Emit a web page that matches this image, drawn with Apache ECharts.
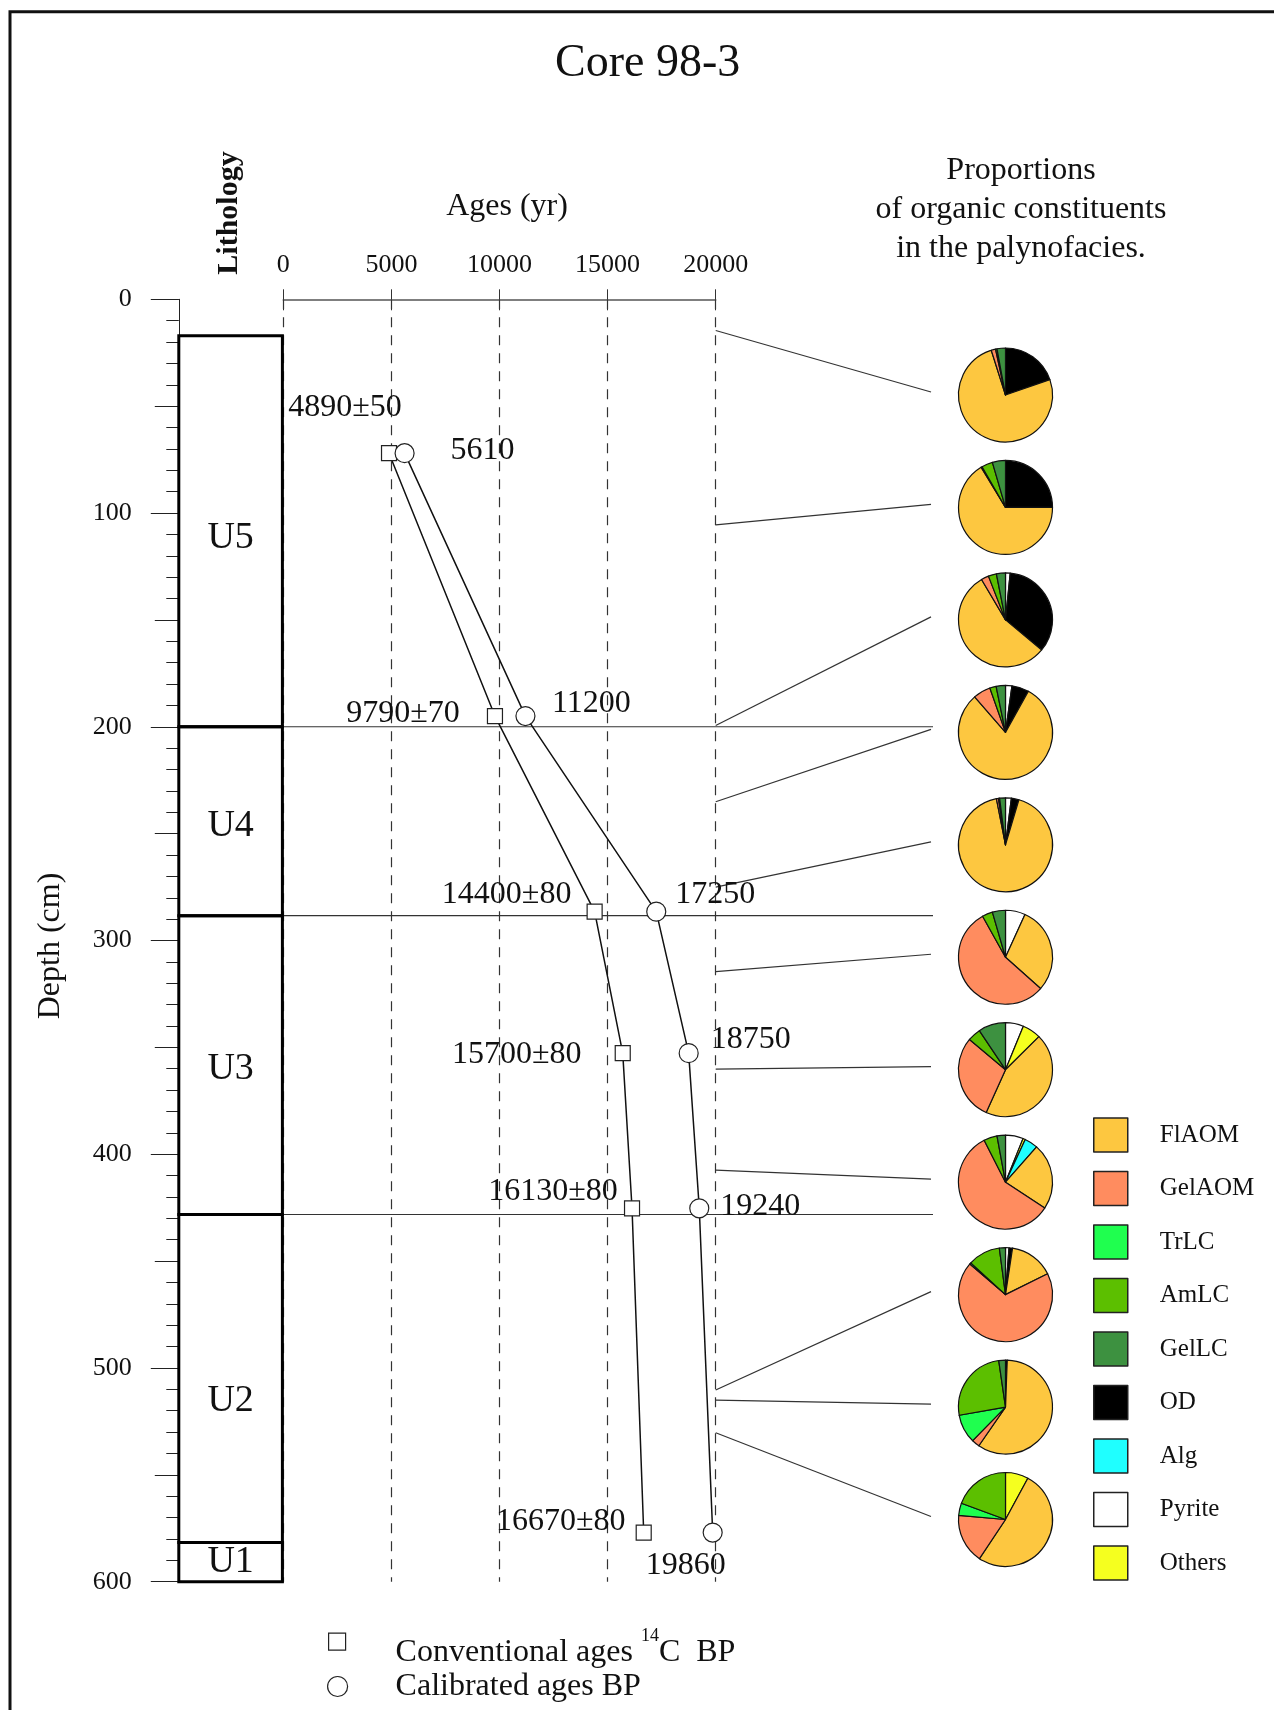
<!DOCTYPE html>
<html>
<head>
<meta charset="utf-8">
<title>Core 98-3</title>
<script src="https://cdn.jsdelivr.net/npm/echarts@6/dist/echarts.min.js"></script>
<style>
    html, body { margin: 0; padding: 0; background: #fff; }
    #chart { width: 1274px; height: 1710px; }
</style>
</head>
<body>
<div id="chart"></div>
<script>
// axes
var depthTicks = [0, 100, 200, 300, 400, 500, 600];
var ageTicks = [0, 5000, 10000, 15000, 20000];

// lithological units (depth in cm)
var unitNames = ['U5', 'U4', 'U3', 'U2', 'U1'];
var unitTop = [17, 200, 288.4, 428.2, 581.7];
var unitBase = [200, 288.4, 428.2, 581.7, 600];
var unitLabelDepth = [111.7, 246.3, 360.1, 515.3, 590.8];
// boundaries that are carried across the age panel
var markedBoundaries = [200, 288.4, 428.2];

// dated levels
var dateDepth = [72, 195, 286.5, 352.7, 425.3, 577];
var convAge = [4890, 9790, 14400, 15700, 16130, 16670];
var convErr = [50, 70, 80, 80, 80, 80];
var calAge = [5610, 11200, 17250, 18750, 19240, 19860];

// palynofacies samples, top to bottom (depth in cm, composition in %)
var sampleDepth = [14.6, 105.5, 199.4, 235.1, 275, 314.6, 360.2, 407.4, 510.3, 515, 530.3];
var FlAOM  = [75.4, 66.3, 55.4, 80.5, 92.2, 29.8, 44.2, 22.8, 15.3, 59.0, 51.5];
var GelAOM = [1.5, 0.4, 2.6, 6.0, 0.7, 55.3, 29.4, 58.2, 68.6, 2.7, 17.1];
var TrLC   = [0, 0, 0, 0, 0, 0, 0, 0, 0.5, 9.9, 4.2];
var AmLC   = [0.5, 3.8, 2.8, 2.2, 0.4, 3.6, 4.5, 4.6, 11.1, 25.5, 19.4];
var GelLC  = [2.9, 4.5, 3.1, 3.2, 2.0, 4.5, 9.4, 2.9, 2.1, 2.3, 0];
var OD     = [19.7, 25.0, 34.4, 5.9, 2.6, 0, 0, 0, 1.2, 0.6, 0];
var Alg    = [0, 0, 0, 0, 0, 0, 0, 4.6, 0, 0, 0];
var Pyrite = [0, 0, 1.6, 2.2, 2.0, 6.8, 6.2, 6.1, 1.2, 0, 0];
var Others = [0, 0, 0, 0, 0, 0, 6.4, 0.8, 0, 0, 7.9];

var legendOrder = ['FlAOM', 'GelAOM', 'TrLC', 'AmLC', 'GelLC', 'OD', 'Alg', 'Pyrite', 'Others'];
var pieOrder = ['Pyrite', 'Others', 'Alg', 'OD', 'FlAOM', 'GelAOM', 'TrLC', 'AmLC', 'GelLC'];
var composition = {
    FlAOM: FlAOM, GelAOM: GelAOM, TrLC: TrLC, AmLC: AmLC, GelLC: GelLC,
    OD: OD, Alg: Alg, Pyrite: Pyrite, Others: Others
};
var colors = {
    FlAOM: '#fdc740', GelAOM: '#ff8c5f', TrLC: '#1fff4f', AmLC: '#5cbf00', GelLC: '#3d9140',
    OD: '#000000', Alg: '#1fffff', Pyrite: '#ffffff', Others: '#f5ff1f'
};

// label placement (px from the marker centre)
var convLabelOffset = [[-44, -46], [-92, -2], [-88, -17], [-106, 1], [-79, -17], [-83, -11]];
var calLabelOffset = [[78, -3], [66, -12], [59, -17], [62, -14], [61, -2], [-27, 33]];

// layout
var FONT = '"Liberation Serif", "Times New Roman", serif';
var GRID_TOP = 299.3, GRID_H = 1282.4;
var LITH_LEFT = 178.8, LITH_W = 103.6;
var AGE_LEFT = 283.3, AGE_W = 432.4;
var PIE_X = 1005.5, PIE_Y0 = 395, PIE_STEP = 112.45, PIE_R = 47;
var LINK_END_X = 931, BOUNDARY_END_X = 933;

var convName = 'Conventional ages 14C BP';
var calName = 'Calibrated ages BP';

var depthMin = depthTicks[0], depthMax = depthTicks[depthTicks.length - 1];
var ageMax = ageTicks[ageTicks.length - 1];

var chart = echarts.init(document.getElementById('chart'));

function depthAxis(gridIndex, extra) {
    var axis = {
        type: 'value', gridIndex: gridIndex, inverse: true, position: 'left',
        min: depthMin, max: depthMax, interval: depthTicks[1] - depthTicks[0],
        splitLine: { show: false }
    };
    return Object.assign(axis, extra);
}

function plainNumber(v) {
    return String(v);
}

var pies = [];
sampleDepth.forEach(function (d, i) {
    var data = [];
    pieOrder.forEach(function (name) {
        var v = composition[name][i];
        if (v > 0) {
            data.push({ name: name, value: v, itemStyle: { color: colors[name] } });
        }
    });
    pies.push({
        type: 'pie',
        center: [PIE_X, PIE_Y0 + i * PIE_STEP],
        radius: PIE_R,
        startAngle: 90,
        clockwise: true,
        silent: true,
        label: { show: false },
        labelLine: { show: false },
        itemStyle: { borderColor: '#111', borderWidth: 1.2 },
        emphasis: { disabled: true },
        data: data
    });
});

var centered = { align: 'center', verticalAlign: 'middle', textAlign: 'center', textVerticalAlign: 'middle' };

var option = {
    animation: false,
    backgroundColor: '#fff',
    title: {
        text: 'Core 98-3',
        left: 555, top: 41, padding: 0,
        textStyle: { fontFamily: FONT, fontSize: 46, fontWeight: 'normal', color: '#111' }
    },
    grid: [
        { left: LITH_LEFT, top: GRID_TOP, width: LITH_W, height: GRID_H, containLabel: false, outerBoundsMode: 'none' },
        { left: AGE_LEFT, top: GRID_TOP, width: AGE_W, height: GRID_H, containLabel: false, outerBoundsMode: 'none' }
    ],
    xAxis: [
        { type: 'value', gridIndex: 0, min: 0, max: 1, show: false },
        {
            type: 'value', gridIndex: 1, position: 'top',
            min: ageTicks[0], max: ageMax, interval: ageTicks[1] - ageTicks[0],
            axisLine: { show: true, lineStyle: { color: '#555', width: 1.5 } },
            axisTick: { show: true, inside: false, length: 10, lineStyle: { color: '#333', width: 1 } },
            axisLabel: {
                show: true, margin: 21, showMinLabel: true, showMaxLabel: true,
                formatter: plainNumber,
                fontFamily: FONT, fontSize: 26, color: '#111'
            },
            splitLine: { show: true, lineStyle: { color: '#333', width: 1.2, type: [10, 8] } }
        },
        {
            type: 'value', gridIndex: 1, position: 'top',
            min: ageTicks[0], max: ageMax, interval: ageTicks[1] - ageTicks[0],
            axisLine: { show: false },
            axisTick: { show: true, inside: true, length: 11, lineStyle: { color: '#333', width: 1 } },
            axisLabel: { show: false },
            splitLine: { show: false }
        }
    ],
    yAxis: [
        depthAxis(0, {
            axisLine: { show: true, lineStyle: { color: '#222', width: 1 } },
            axisTick: { show: true, length: 28, lineStyle: { color: '#222', width: 1 } },
            minorTick: { show: true, splitNumber: 10, length: 12.5, lineStyle: { color: '#222', width: 1 } },
            axisLabel: {
                show: true, margin: 47, showMinLabel: true, showMaxLabel: true,
                formatter: plainNumber,
                fontFamily: FONT, fontSize: 26, color: '#111'
            }
        }),
        depthAxis(0, {
            interval: 50,
            axisLine: { show: false },
            axisTick: { show: true, length: 24, lineStyle: { color: '#222', width: 1 } },
            axisLabel: { show: false }
        }),
        depthAxis(1, { show: false })
    ],
    legend: [
        {
            data: legendOrder.map(function (n) { return { name: n, icon: 'rect' }; }),
            orient: 'vertical', left: 1093, top: 1117.3, padding: 0,
            itemWidth: 34, itemHeight: 34, itemGap: 18,
            selectedMode: false,
            itemStyle: { borderColor: '#222', borderWidth: 1.5 },
            textStyle: { fontFamily: FONT, fontSize: 25, lineHeight: 26, color: '#111', padding: [6, 0, 0, 27] }
        },
        {
            data: [{ name: convName, icon: 'rect', itemStyle: { color: '#fff', borderColor: '#222', borderWidth: 1.2 } }],
            orient: 'vertical', left: 328, top: 1605.7, padding: 0,
            itemWidth: 17, itemHeight: 17,
            selectedMode: false,
            formatter: function () {
                return '{a|Conventional ages }{s|14}{a|C  BP}';
            },
            textStyle: {
                fontFamily: FONT, fontSize: 32, color: '#111', lineHeight: 50, padding: [22, 0, 0, 45],
                rich: {
                    a: { fontFamily: FONT, fontSize: 32, color: '#111', lineHeight: 50 },
                    s: { fontFamily: FONT, fontSize: 18, color: '#111', lineHeight: 18, verticalAlign: 'top' }
                }
            }
        },
        {
            data: [{ name: calName, icon: 'circle', itemStyle: { color: '#fff', borderColor: '#222', borderWidth: 1.2 } }],
            orient: 'vertical', left: 327, top: 1669.5, padding: 0,
            itemWidth: 20, itemHeight: 20,
            selectedMode: false,
            textStyle: { fontFamily: FONT, fontSize: 32, color: '#111', lineHeight: 34, padding: [0, 0, 0, 43] }
        }
    ],
    graphic: [
        { type: 'rect', shape: { x: 10, y: 11.7, width: 1400, height: 1800 }, style: { fill: 'none', stroke: '#111', lineWidth: 3 }, silent: true },
        { type: 'text', x: 507, y: 207, style: Object.assign({ text: 'Ages (yr)', font: '32px ' + FONT, fill: '#111' }, centered) },
        { type: 'text', x: 1021, y: 210, style: Object.assign({ text: 'Proportions\nof organic constituents\nin the palynofacies.', font: '32px ' + FONT, lineHeight: 39, fill: '#111' }, centered) },
        { type: 'text', x: 229, y: 213, rotation: Math.PI / 2, style: Object.assign({ text: 'Lithology', font: 'bold 30px ' + FONT, fill: '#111' }, centered) },
        { type: 'text', x: 51, y: 946, rotation: Math.PI / 2, style: Object.assign({ text: 'Depth (cm)', font: '32px ' + FONT, fill: '#111' }, centered) }
    ],
    series: [
        {
            // lithology column
            type: 'custom', xAxisIndex: 0, yAxisIndex: 0, clip: false, z: 4, silent: true,
            data: unitNames.map(function (n, i) { return [0, unitTop[i], unitBase[i], unitLabelDepth[i]]; }),
            renderItem: function (params, api) {
                var p0 = api.coord([0, api.value(1)]);
                var p1 = api.coord([1, api.value(2)]);
                var pl = api.coord([0.5, api.value(3)]);
                return {
                    type: 'group',
                    children: [
                        {
                            type: 'rect',
                            shape: { x: p0[0], y: p0[1], width: p1[0] - p0[0], height: p1[1] - p0[1] },
                            style: { fill: 'none', stroke: '#000', lineWidth: 3 }
                        },
                        {
                            type: 'text', x: pl[0], y: pl[1],
                            style: Object.assign({ text: unitNames[params.dataIndex], font: '38px ' + FONT, fill: '#111' }, centered)
                        }
                    ]
                };
            }
        },
        {
            // unit boundaries carried across the age panel
            type: 'custom', xAxisIndex: 1, yAxisIndex: 2, clip: false, z: 1, silent: true,
            data: markedBoundaries.map(function (d) { return [0, d]; }),
            renderItem: function (params, api) {
                var p = api.coord([0, api.value(1)]);
                return {
                    type: 'line',
                    shape: { x1: p[0] - 1, y1: p[1], x2: BOUNDARY_END_X, y2: p[1] },
                    style: { stroke: '#333', lineWidth: 1.2 }
                };
            }
        },
        {
            // sample levels linked to their pies
            type: 'custom', xAxisIndex: 1, yAxisIndex: 2, clip: false, z: 1, silent: true,
            data: sampleDepth.map(function (d, i) { return [ageMax, d, i]; }),
            renderItem: function (params, api) {
                var p = api.coord([api.value(0), api.value(1)]);
                var i = api.value(2);
                return {
                    type: 'line',
                    shape: { x1: p[0], y1: p[1], x2: LINK_END_X, y2: PIE_Y0 + i * PIE_STEP - 3 },
                    style: { stroke: '#333', lineWidth: 1.2 }
                };
            }
        },
        {
            name: convName, type: 'line', xAxisIndex: 1, yAxisIndex: 2, z: 5,
            symbol: 'rect', symbolSize: 15, showAllSymbol: true,
            lineStyle: { color: '#111', width: 1.5 },
            itemStyle: { color: '#fff', borderColor: '#222', borderWidth: 1.2 },
            label: {
                show: true, position: 'inside', color: '#111', fontFamily: FONT, fontSize: 32,
                formatter: function (p) { return convAge[p.dataIndex] + '±' + convErr[p.dataIndex]; }
            },
            emphasis: { disabled: true },
            data: convAge.map(function (a, i) {
                return { value: [a, dateDepth[i]], label: { offset: convLabelOffset[i] } };
            })
        },
        {
            name: calName, type: 'line', xAxisIndex: 1, yAxisIndex: 2, z: 5,
            symbol: 'circle', symbolSize: 19, showAllSymbol: true,
            lineStyle: { color: '#111', width: 1.5 },
            itemStyle: { color: '#fff', borderColor: '#222', borderWidth: 1.2 },
            label: {
                show: true, position: 'inside', color: '#111', fontFamily: FONT, fontSize: 32,
                formatter: function (p) { return String(calAge[p.dataIndex]); }
            },
            emphasis: { disabled: true },
            data: calAge.map(function (a, i) {
                return { value: [a, dateDepth[i]], label: { offset: calLabelOffset[i] } };
            })
        }
    ].concat(pies)
};

chart.setOption(option);
</script>
</body>
</html>
